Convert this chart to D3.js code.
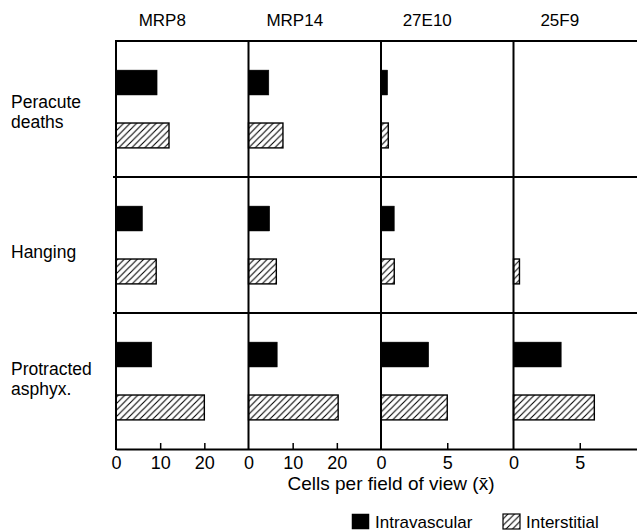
<!DOCTYPE html>
<html><head><meta charset="utf-8">
<script src="https://cdn.jsdelivr.net/npm/d3@7"></script>
<style>
body{margin:0;background:#fff}
svg{display:block}
text{font-family:"Liberation Sans",Arial,Helvetica,sans-serif;fill:#000}
</style>
</head><body>
<svg id="c" width="637" height="532"></svg>
<script>
// ---- data ----
const markers = ["MRP8", "MRP14", "27E10", "25F9"];
const groups = ["Peracute deaths", "Hanging", "Protracted asphyx."];
const groupLines = [["Peracute", "deaths"], ["Hanging"], ["Protracted", "asphyx."]];
const series = ["Intravascular", "Interstitial"];
const axisMax = [30, 30, 10, 10];
const tickValues = [[0, 10, 20], [0, 10, 20], [0, 5], [0, 5]];
// rows = groups, columns = markers
const intravascular = [
  [9.3, 4.6, 0.5, 0],
  [6.0, 4.8, 1.0, 0],
  [8.1, 6.5, 3.6, 3.6]
];
const interstitial = [
  [12.0, 7.8, 0.55, 0],
  [9.1, 6.3, 1.0, 0.45],
  [20.0, 20.3, 5.0, 6.1]
];
const axisTitle = "Cells per field of view (x\u0304)";

// ---- layout ----
const W = 637, H = 532;
const padL = 116, padT = 41, axisY = 449, colW = 132.5;
const svg = d3.select("#c");

const defs = svg.append("defs");
const pat = defs.append("pattern").attr("id", "hatch")
  .attr("patternUnits", "userSpaceOnUse").attr("width", 6.5).attr("height", 6.5);
pat.append("rect").attr("width", 6.5).attr("height", 6.5).attr("fill", "#fff");
pat.append("path").attr("d", "M-1,7.5 L7.5,-1 M-1,1 L1,-1 M5.5,7.5 L7.5,5.5")
  .attr("stroke", "#000").attr("stroke-width", 1.1);

const col = d3.scaleBand().domain(markers).range([padL, padL + colW * markers.length]);
const row = d3.scaleBand().domain(groups).range([padT, axisY]);
const ser = d3.scaleBand().domain(series).range([0, row.bandwidth()])
  .paddingInner(0.53).paddingOuter(0.55);

const xs = markers.map((m, i) => d3.scaleLinear().domain([0, axisMax[i]])
  .range([col(m), col(m) + col.bandwidth()]));

// bars
const values = {Intravascular: intravascular, Interstitial: interstitial};
groups.forEach((g, gi) => {
  markers.forEach((m, mi) => {
    series.forEach(s => {
      const v = values[s][gi][mi];
      if (v <= 0) return;
      svg.append("rect")
        .attr("x", xs[mi](0))
        .attr("y", row(g) + ser(s))
        .attr("width", xs[mi](v) - xs[mi](0))
        .attr("height", ser.bandwidth())
        .attr("fill", s === "Intravascular" ? "#000" : "url(#hatch)")
        .attr("stroke", "#000")
        .attr("stroke-width", s === "Intravascular" ? 0.5 : 1.4);
    });
  });
});

// frame lines
const frame = svg.append("g").attr("stroke", "#000").attr("stroke-width", 2).attr("fill", "none");
frame.append("line").attr("x1", padL - 1).attr("x2", W).attr("y1", padT).attr("y2", padT);
groups.slice(1).forEach(g => {
  frame.append("line").attr("x1", padL - 3).attr("x2", W).attr("y1", row(g)).attr("y2", row(g));
});
markers.forEach(m => {
  frame.append("line").attr("x1", col(m)).attr("x2", col(m)).attr("y1", padT).attr("y2", axisY + 1);
});

// axes
markers.forEach((m, mi) => {
  const g = svg.append("g").attr("transform", `translate(0,${axisY})`)
    .call(d3.axisBottom(xs[mi]).tickValues(tickValues[mi])
      .tickSizeInner(-6).tickSizeOuter(0).tickPadding(7));
  g.select(".domain").attr("stroke-width", 2);
  g.selectAll(".tick line").attr("stroke-width", 1.5)
    .filter(d => d === 0).remove();
  g.selectAll(".tick text").attr("font-size", 18).attr("fill", "#000")
    .style("font-family", '"Liberation Sans",Arial,sans-serif');
});

// column headers
svg.append("g").selectAll("text").data(markers).join("text")
  .attr("x", d => col(d) + col.bandwidth() / 2 - 20)
  .attr("y", 26)
  .attr("text-anchor", "middle")
  .attr("font-size", 17)
  .text(d => d);

// row labels (multi-line via tspans)
const labelOffsets = [-1, 13, -6];
groupLines.forEach((lines, gi) => {
  const cy = row(groups[gi]) + row.bandwidth() / 2;
  const t = svg.append("text").attr("x", 11).attr("y", cy + labelOffsets[gi])
    .attr("font-size", 17.5);
  lines.forEach((s, li) => {
    t.append("tspan").attr("x", 11).attr("dy", li === 0 ? 0 : 19.6).text(s);
  });
});

// axis title
svg.append("text").attr("x", 391).attr("y", 490)
  .attr("text-anchor", "middle").attr("font-size", 19).text(axisTitle);

// legend
const lg = svg.append("g").attr("transform", "translate(352,514)");
const lx = [0, 151];
series.forEach((s, i) => {
  lg.append("rect").attr("x", lx[i]).attr("y", 0).attr("width", 17).attr("height", 15)
    .attr("fill", i === 0 ? "#000" : "url(#hatch)").attr("stroke", "#000").attr("stroke-width", i === 0 ? 0.5 : 1.2);
  lg.append("text").attr("x", lx[i] + 23).attr("y", 14).attr("font-size", 17).text(s);
});
</script>
</body></html>
